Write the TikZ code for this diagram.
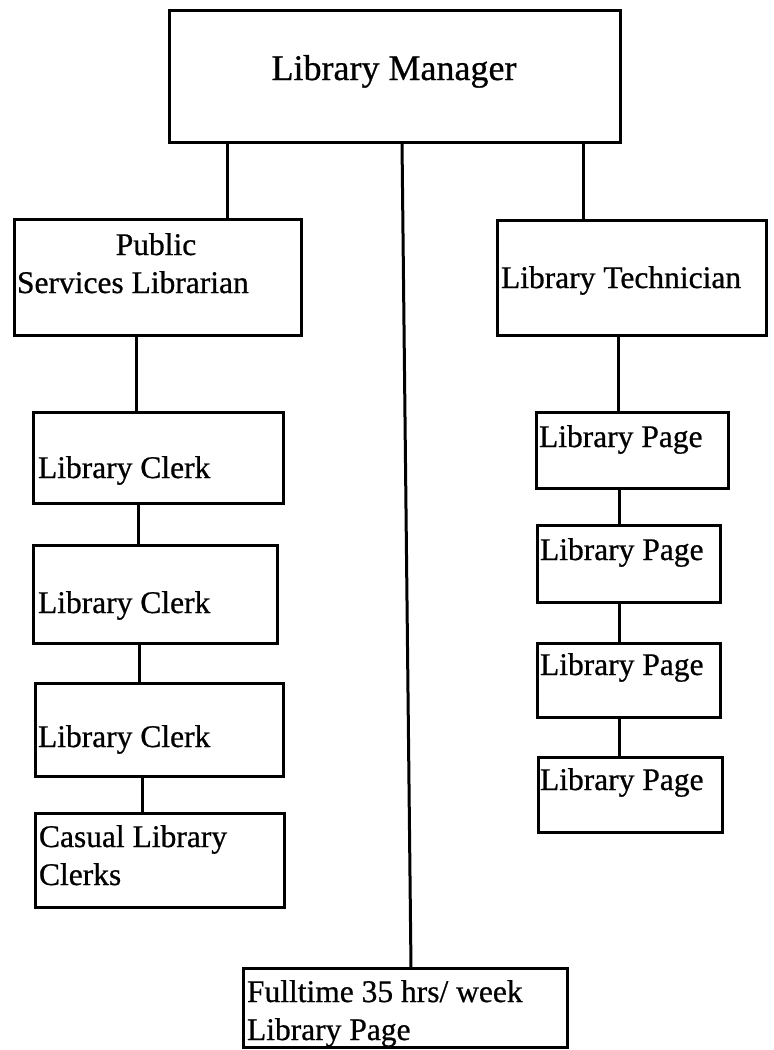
\documentclass[tikz,border=0pt]{standalone}
\usepackage{fontspec}
\setmainfont{Liberation Serif}
\newfontfamily\heavyserif{Liberation Serif}[FakeBold=0.7]
\begin{document}
\begin{tikzpicture}[x=1pt,y=-1pt,
  box/.style={draw=black, line width=3pt, outer sep=0pt, inner sep=0pt, rectangle, anchor=north west},
  conn/.style={draw=black, line width=3pt},
  txt/.style={inner sep=0pt, outer sep=0pt, anchor=base west, font=\heavyserif\fontsize{31.5}{37}\selectfont},
  bigtxt/.style={inner sep=0pt, outer sep=0pt, anchor=base, font=\heavyserif\fontsize{36}{42}\selectfont}]
\useasboundingbox[fill=white] (0,0) rectangle (774,1050);
% boxes
\node[box, minimum width=451pt, minimum height=132pt] (mgr) at (169,10) {};
\node[box, minimum width=287pt, minimum height=116pt] (psl) at (14,219) {};
\node[box, minimum width=269pt, minimum height=115pt] (tech) at (497,220) {};
\node[box, minimum width=250pt, minimum height=91pt] (clerk1) at (33,412) {};
\node[box, minimum width=244pt, minimum height=98pt] (clerk2) at (33,545) {};
\node[box, minimum width=248pt, minimum height=93pt] (clerk3) at (35,683) {};
\node[box, minimum width=249pt, minimum height=94pt] (casual) at (35,813) {};
\node[box, minimum width=192pt, minimum height=76pt] (page1) at (536,412) {};
\node[box, minimum width=183pt, minimum height=77pt] (page2) at (537,525) {};
\node[box, minimum width=183pt, minimum height=74pt] (page3) at (537,643) {};
\node[box, minimum width=184pt, minimum height=75pt] (page4) at (538,757) {};
\node[box, minimum width=324pt, minimum height=79pt] (full) at (243,968) {};
% texts
\node[bigtxt] (tmgr) at (394,80) {Library Manager};
\node[txt, anchor=base] (tpsl1) at (156,255) {Public};
\node[txt] (tpsl2) at (17,293) {Services Librarian};
\node[txt] (ttech) at (501,288) {Library Technician};
\node[txt] (tc1) at (38,478) {Library Clerk};
\node[txt] (tc2) at (38,613) {Library Clerk};
\node[txt] (tc3) at (38,747) {Library Clerk};
\node[txt] (tcas1) at (39,847) {Casual Library};
\node[txt] (tcas2) at (39,885) {Clerks};
\node[txt] (tp1) at (539,447) {Library Page};
\node[txt] (tp2) at (540,560) {Library Page};
\node[txt] (tp3) at (540,675) {Library Page};
\node[txt] (tp4) at (540,790) {Library Page};
\node[txt] (tf1) at (247,1002) {Fulltime 35 hrs/ week};
\node[txt] (tf2) at (247,1040) {Library Page};
% connectors
\draw[conn] ([xshift=58pt]mgr.south west) -- ([xshift=213pt]psl.north west);
\draw[conn] ([xshift=233pt]mgr.south west) -- ([xshift=168pt]full.north west);
\draw[conn] ([xshift=414pt]mgr.south west) -- ([xshift=86pt]tech.north west);
\draw[conn] ([xshift=122pt]psl.south west) -- ([xshift=103pt]clerk1.north west);
\draw[conn] ([xshift=105pt]clerk1.south west) -- ([xshift=105pt]clerk2.north west);
\draw[conn] ([xshift=106pt]clerk2.south west) -- ([xshift=104pt]clerk3.north west);
\draw[conn] ([xshift=107pt]clerk3.south west) -- ([xshift=107pt]casual.north west);
\draw[conn] ([xshift=121pt]tech.south west) -- ([xshift=82pt]page1.north west);
\draw[conn] ([xshift=83pt]page1.south west) -- ([xshift=82pt]page2.north west);
\draw[conn] ([xshift=82pt]page2.south west) -- ([xshift=82pt]page3.north west);
\draw[conn] ([xshift=82pt]page3.south west) -- ([xshift=81pt]page4.north west);
\end{tikzpicture}
\end{document}
